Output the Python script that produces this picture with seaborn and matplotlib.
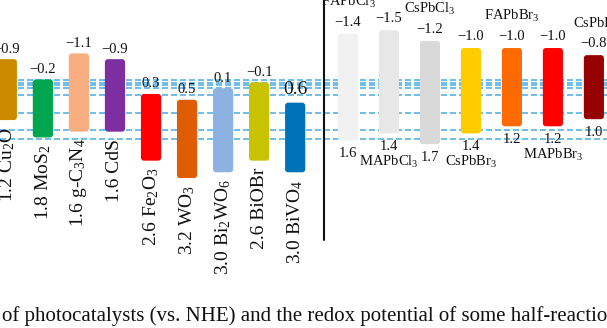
import numpy as np
import pandas as pd
import matplotlib
matplotlib.use("Agg")
import matplotlib.pyplot as plt
import seaborn as sns
from matplotlib.patches import FancyBboxPatch
from matplotlib.lines import Line2D

# ---------------- data ----------------
semi_names = ["Cu$_2$O", "MoS$_2$", "g-C$_3$N$_4$", "CdS", "Fe$_2$O$_3$",
              "WO$_3$", "Bi$_2$WO$_6$", "BiOBr", "BiVO$_4$"]
semi_cb = [-0.9, -0.2, -1.1, -0.9, 0.3, 0.5, 0.1, -0.1, 0.6]
semi_vb = [1.2, 1.8, 1.6, 1.6, 2.6, 3.2, 3.0, 2.6, 3.0]
semi_colors = ["#cc8a00", "#00a54f", "#f9ae82", "#7d2ea0", "#fe0000",
               "#e05c00", "#8db1e0", "#c9c200", "#0072b9"]

pero_names = ["FAPbCl$_3$", "MAPbCl$_3$", "CsPbCl$_3$", "CsPbBr$_3$",
              "FAPbBr$_3$", "MAPbBr$_3$", "CsPbI$_3$"]
pero_cb = [-1.4, -1.5, -1.2, -1.0, -1.0, -1.0, -0.8]
pero_vb = [1.6, 1.4, 1.7, 1.4, 1.2, 1.2, 1.0]
pero_colors = ["#f1f1f1", "#e7e7e7", "#d9d9d9", "#ffcc00", "#ff6a00",
               "#ff0000", "#960000"]
pero_name_pos = ["top", "bottom", "top", "bottom", "top", "bottom", "top"]

redox_levels = [-0.10, -0.03, 0.04, 0.11, 0.32, 0.83, 1.30, 1.56]

caption = "of photocatalysts (vs. NHE) and the redox potential of some half-reactions"

# ---------------- style ----------------
sns.set_style("white")
plt.rcParams["font.family"] = ["Liberation Serif", "DejaVu Serif"]
plt.rcParams["mathtext.fontset"] = "custom"
plt.rcParams["mathtext.rm"] = "Liberation Serif"
plt.rcParams["mathtext.it"] = "Liberation Serif:italic"
plt.rcParams["mathtext.default"] = "regular"

FW, FH = 607, 328
fig = plt.figure(figsize=(FW / 100, FH / 100), dpi=100)

split = 324 / FW
bg = fig.add_axes([0, 0, 1, 1])
ax1 = fig.add_axes([0, 0, split, 1])
ax2 = fig.add_axes([split, 0, 1 - split, 1])
for a in (bg, ax1, ax2):
    a.set_facecolor("none")

LEFT_YLIM = (8.37, -2.94)
RIGHT_YLIM = (6.87, -2.35)
LEFT_XLIM = (-0.19, 8.80)
RIGHT_XLIM = (-0.585, 6.32)


def fmt(v):
    return f"{v:.1f}".replace("-", "\u2212")


# dashed redox lines on background axes (right-panel scale)
bg.set_xlim(0, 1)
bg.set_ylim(*RIGHT_YLIM)
for lv in redox_levels:
    bg.axhline(lv, color="#58b2e3", lw=1.2, ls=(0, (3.6, 1.8)), zorder=1)
bg.axis("off")


def draw_panel(ax, names, cb, vb, colors, xlim, ylim, width):
    df = pd.DataFrame({"name": names, "gap": np.subtract(vb, cb)})
    sns.barplot(data=df, x="name", y="gap", hue="name", palette=colors,
                legend=False, ax=ax, width=width, saturation=1)
    ax.set_xlim(*xlim)
    ax.set_ylim(*ylim)
    pos = ax.get_position()
    wpx, hpx = pos.width * FW, pos.height * FH
    dxpp = (xlim[1] - xlim[0]) / wpx
    dypp = abs(ylim[0] - ylim[1]) / hpx
    aspect = dypp / dxpp
    rad = 3.0 * dxpp
    for p, c0, col in zip(list(ax.patches), cb, colors):
        x, w, h = p.get_x(), p.get_width(), p.get_height()
        p.remove()
        ax.add_patch(FancyBboxPatch((x, c0), w, h,
                                    boxstyle=f"round,pad=0,rounding_size={rad}",
                                    mutation_aspect=aspect, fc=col, ec="none",
                                    zorder=3))
    ax.axis("off")


draw_panel(ax1, semi_names, semi_cb, semi_vb, semi_colors, LEFT_XLIM, LEFT_YLIM, 0.56)
draw_panel(ax2, pero_names, pero_cb, pero_vb, pero_colors, RIGHT_XLIM, RIGHT_YLIM, 0.49)

# left panel labels
for i, (n, c0, v0) in enumerate(zip(semi_names, semi_cb, semi_vb)):
    big = (i == len(semi_names) - 1)
    ax1.annotate(fmt(c0), (i, c0), xytext=(0, 3 if big else 2.5),
                 textcoords="offset points", ha="center", va="bottom",
                 fontsize=14 if big else 10.5, color="#111111")
    ax1.annotate(f"{fmt(v0)} {n}", (i, v0), xytext=(0, -5),
                 textcoords="offset points", ha="center", va="top",
                 rotation=90, fontsize=14, color="#111111")

# right panel labels
for i, (n, c0, v0, where) in enumerate(zip(pero_names, pero_cb, pero_vb, pero_name_pos)):
    ax2.annotate(fmt(c0), (i, c0), xytext=(0, 3.5), textcoords="offset points",
                 ha="center", va="bottom", fontsize=10.5, color="#111111")
    ax2.annotate(fmt(v0), (i, v0), xytext=(0, -5), textcoords="offset points",
                 ha="center", va="top", fontsize=10.5, color="#111111")
    if where == "top":
        ax2.annotate(n, (i, c0), xytext=(0, 17), textcoords="offset points",
                     ha="center", va="bottom", fontsize=10.5, color="#111111")
    else:
        ax2.annotate(n, (i, v0), xytext=(0, -15), textcoords="offset points",
                     ha="center", va="top", fontsize=10.5, color="#111111")

# separator line
fig.add_artist(Line2D([split, split], [1.0, 1 - 240 / FH], transform=fig.transFigure,
                      color="#111111", lw=1.5))

# caption (cropped)
fig.text(0.003, 0.022, caption, fontsize=15, ha="left", va="baseline", color="#111111")

fig.savefig("out.png", dpi=100)
